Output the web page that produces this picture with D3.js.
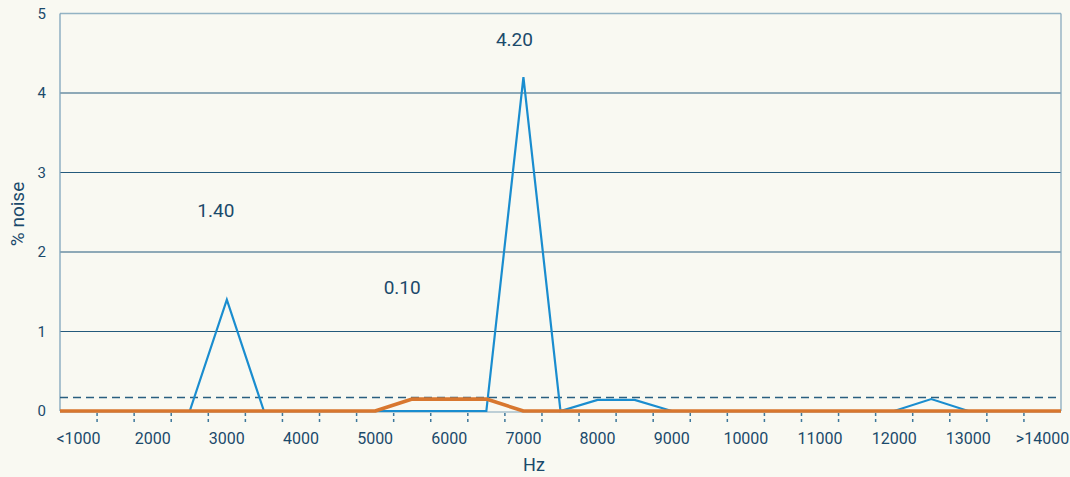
<!DOCTYPE html>
<html>
<head>
<meta charset="utf-8">
<script src="https://cdn.jsdelivr.net/npm/d3@7"></script>
<style>
  html, body { margin: 0; padding: 0; background: #f9f9f2; }
  svg { display: block; }
  text { font-family: Roboto, "DejaVu Sans", sans-serif; fill: #1b4a6b; }
</style>
</head>
<body>
<svg id="chart" width="1070" height="477"></svg>
<script>
const categories = ["<1000","1500","2000","2500","3000","3500","4000","4500","5000","5500","6000","6500","7000","7500","8000","8500","9000","9500","10000","10500","11000","11500","12000","12500","13000","13500",">14000"];
const shownLabels = ["<1000","2000","3000","4000","5000","6000","7000","8000","9000","10000","11000","12000","13000",">14000"];
const blueValues   = [0,0,0,0,1.4,0,0,0,0,0,0,0,4.2,0,0.14,0.14,0,0,0,0,0,0,0,0.15,0,0,0];
const orangeValues = [0,0,0,0,0,0,0,0,0,0.15,0.15,0.15,0,0,0,0,0,0,0,0,0,0,0,0,0,0,0];
const yTicks = [0,1,2,3,4,5];
const thresholdValue = 0.17;
const annotations = [
  {text: "4.20", cat: "7000", value: 4.2},
  {text: "1.40", cat: "3000", value: 1.4},
  {text: "0.10", cat: "5500", value: 0.15}
];
const yLabel = "% noise";
const xLabel = "Hz";

(function () {
const svg = d3.select("#chart");
const mLeft = 60, mRight = 1061, mTop = 13.5, mBottom = 411;
const x = d3.scaleBand().domain(categories).range([mLeft, mRight]).paddingInner(0).paddingOuter(0);
const y = d3.scaleLinear().domain([0, 5]).range([mBottom, mTop]);
const cx = d => x(d) + x.bandwidth() / 2;

// gridlines
svg.append("g").selectAll("line").data(yTicks.filter(t => t > 0 && t < 5)).join("line")
  .attr("x1", mLeft).attr("x2", mRight)
  .attr("y1", d => y(d)).attr("y2", d => y(d))
  .attr("stroke", "#245a7c").attr("stroke-width", 1.2);

// border top / left / right
svg.append("line").attr("x1", mLeft).attr("x2", mRight).attr("y1", y(5)).attr("y2", y(5))
  .attr("stroke", "#93b3c4").attr("stroke-width", 1.5);
svg.append("line").attr("x1", mLeft).attr("x2", mLeft).attr("y1", y(5)).attr("y2", mBottom)
  .attr("stroke", "#7fa4bb").attr("stroke-width", 1.3);
svg.append("line").attr("x1", mRight).attr("x2", mRight).attr("y1", y(5)).attr("y2", mBottom)
  .attr("stroke", "#8aaabd").attr("stroke-width", 1.3);
// bottom axis line
svg.append("line").attr("x1", mLeft).attr("x2", mRight).attr("y1", mBottom + 1).attr("y2", mBottom + 1)
  .attr("stroke", "#a9c0cc").attr("stroke-width", 1.5);

// y axis labels
const yAxis = d3.axisLeft(y).tickValues(yTicks).tickSize(0).tickPadding(14).tickFormat(d3.format("d"));
const yg = svg.append("g").attr("transform", `translate(${mLeft},0)`).call(yAxis);
yg.select(".domain").remove();
yg.selectAll("text").style("font-size", "15px").attr("fill", "#1b4a6b").style("font-family", "Roboto, sans-serif");

// x tick marks (dashed at band boundaries)
svg.append("g").selectAll("line").data(categories.slice(1)).join("line")
  .attr("x1", d => x(d)).attr("x2", d => x(d))
  .attr("y1", mBottom + 2).attr("y2", mBottom + 14)
  .attr("stroke", "#3f789b").attr("stroke-width", 1.5)
  .attr("stroke-dasharray", "3,3");

// x labels
const xAxis = d3.axisBottom(x).tickSize(0).tickPadding(22)
  .tickFormat(d => shownLabels.includes(d) ? d : "");
const xg = svg.append("g").attr("transform", `translate(0,${mBottom})`).call(xAxis);
xg.select(".domain").remove();
xg.selectAll("text").style("font-size", "16px").attr("fill", "#1b4a6b").style("font-family", "Roboto, sans-serif");

// threshold dashed line
svg.append("line").attr("x1", mLeft).attr("x2", mRight - 3)
  .attr("y1", y(thresholdValue)).attr("y2", y(thresholdValue))
  .attr("stroke", "#2a5f80").attr("stroke-width", 1.4).attr("stroke-dasharray", "8,5");

// lines: series points at band centres, extended flat to the plot edges
const toPoints = vals => {
  const pts = vals.map((v, i) => [cx(categories[i]), y(v)]);
  return [[mLeft, y(vals[0])], ...pts, [mRight, y(vals[vals.length - 1])]];
};
const line = d3.line();
svg.append("path").attr("d", line(toPoints(blueValues)))
  .attr("fill", "none").attr("stroke", "#1a8dcf").attr("stroke-width", 2.2).attr("stroke-linejoin", "miter");
svg.append("path").attr("d", line(toPoints(orangeValues)))
  .attr("fill", "none").attr("stroke", "#d8772f").attr("stroke-width", 3.6).attr("stroke-linejoin", "round");

// annotations (positions as in reference)
const annOffsets = {"4.20": [-9, -31], "1.40": [-11, -83], "0.10": [-10, -105]};
svg.append("g").selectAll("text").data(annotations).join("text")
  .attr("x", d => cx(d.cat) + annOffsets[d.text][0])
  .attr("y", d => y(d.value) + annOffsets[d.text][1])
  .attr("text-anchor", "middle")
  .style("font-size", "19px")
  .text(d => d.text);

// axis titles
svg.append("text").attr("transform", "translate(24,214) rotate(-90)")
  .attr("text-anchor", "middle").style("font-size", "19px").text(yLabel);
svg.append("text").attr("x", 534).attr("y", 471).attr("text-anchor", "middle")
  .style("font-size", "18px").text(xLabel);
})();
</script>
</body>
</html>
